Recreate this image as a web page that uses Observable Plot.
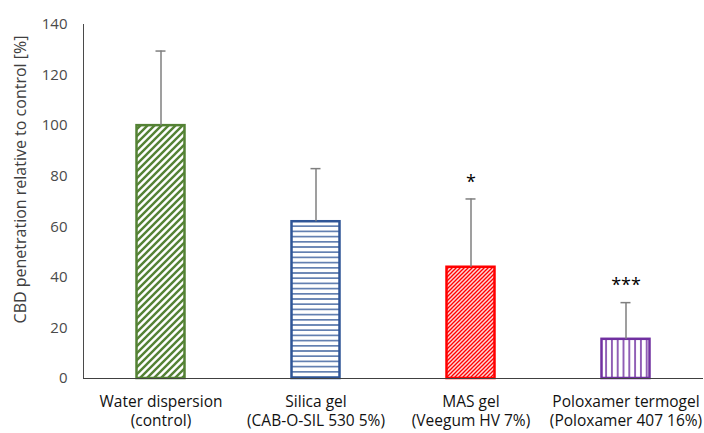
<!DOCTYPE html>
<html><head><meta charset="utf-8">
<script src="https://cdn.jsdelivr.net/npm/d3@7"></script>
<script src="https://cdn.jsdelivr.net/npm/@observablehq/plot@0.6"></script>
<style>body{margin:0;background:#fff} svg{font-family:"Open Sans",sans-serif}</style>
</head><body><div id="chart"></div>
<script>
const categories = ["Water dispersion\n(control)", "Silica gel\n(CAB-O-SIL 530 5%)", "MAS gel\n(Veegum HV 7%)", "Poloxamer termogel\n(Poloxamer 407 16%)"];
const values = [100, 62, 44, 15.5];
const errors = [29.5, 21, 27, 14.5];
const significance = ["", "", "*", "***"];
const strokeColors = ["#548235", "#2f5597", "#ff0000", "#7030a0"];
const patternIds = ["hatch-green", "hatch-blue", "hatch-red", "hatch-purple"];
const yTicks = [0, 20, 40, 60, 80, 100, 120, 140];
const yLabel = "CBD penetration relative to control [%]";

const data = categories.map((c, i) => ({
  cat: c, value: values[i], top: values[i] + errors[i], sig: significance[i],
  stroke: strokeColors[i], fill: `url(#${patternIds[i]})`
}));

const chart = Plot.plot({
  width: 704, height: 433,
  marginLeft: 83, marginRight: 1, marginTop: 24, marginBottom: 55,
  x: {domain: categories, padding: 0, label: null},
  y: {domain: [0, 140], ticks: yTicks, label: null, tickSize: 0, tickPadding: 16, line: true},
  color: {type: "identity"},
  style: {fontSize: "15px", fontFamily: "Open Sans", color: "#4a4a4a", background: "#fff"},
  marks: [
    Plot.barY(data, {x: "cat", y: "value", fill: "fill", stroke: "stroke", strokeWidth: 2.5, insetLeft: 53.5, insetRight: 53.5}),
    Plot.ruleX(data, {x: "cat", y1: "value", y2: "top", stroke: "#7f7f7f", strokeWidth: 1.5}),
    Plot.tickY(data, {x: "cat", y: "top", stroke: "#7f7f7f", strokeWidth: 1.5, insetLeft: 72.5, insetRight: 72.5}),
    Plot.text(data, {x: "cat", y: "top", text: "sig", dy: -17, fontSize: 18, fill: "#000"}),
    Plot.ruleY([0], {stroke: "#404040", strokeWidth: 1.2}),
    Plot.axisX({tickSize: 0, tickPadding: 15, lineHeight: 1.22, fontSize: 15.5, fill: "#111", label: null}),
    Plot.text([yLabel], {frameAnchor: "left", textAnchor: "middle", rotate: -90, dx: -63, dy: -22, fontSize: 16, fill: "#404040"})
  ]
});

const defs = d3.select(chart).insert("defs", ":first-child");
// green wide "/" stripes
const g = defs.append("pattern").attr("id", patternIds[0]).attr("patternUnits", "userSpaceOnUse").attr("width", 7).attr("height", 7);
g.append("rect").attr("width", 7).attr("height", 7).attr("fill", "#fff");
g.append("path").attr("d", "M-1,1 l2,-2 M0,7 l7,-7 M6,8 l2,-2").attr("stroke", strokeColors[0]).attr("stroke-width", 2.4);
// blue horizontal lines
const b = defs.append("pattern").attr("id", patternIds[1]).attr("patternUnits", "userSpaceOnUse").attr("width", 10).attr("height", 5.2);
b.append("rect").attr("width", 10).attr("height", 5.2).attr("fill", "#fff");
b.append("path").attr("d", "M0,2.6 H10").attr("stroke", strokeColors[1]).attr("stroke-width", 1.3);
// red narrow "/" stripes on pink
const r = defs.append("pattern").attr("id", patternIds[2]).attr("patternUnits", "userSpaceOnUse").attr("width", 4).attr("height", 4);
r.append("rect").attr("width", 4).attr("height", 4).attr("fill", "#ffd6d6");
r.append("path").attr("d", "M-1,1 l2,-2 M0,4 l4,-4 M3,5 l2,-2").attr("stroke", strokeColors[2]).attr("stroke-width", 1.3);
// purple vertical lines
const p = defs.append("pattern").attr("id", patternIds[3]).attr("patternUnits", "userSpaceOnUse").attr("width", 5.8).attr("height", 10);
p.append("rect").attr("width", 5.8).attr("height", 10).attr("fill", "#fff");
p.append("path").attr("d", "M2.9,0 V10").attr("stroke", strokeColors[3]).attr("stroke-width", 1.5);

document.getElementById("chart").appendChild(chart);
</script>
</body></html>
